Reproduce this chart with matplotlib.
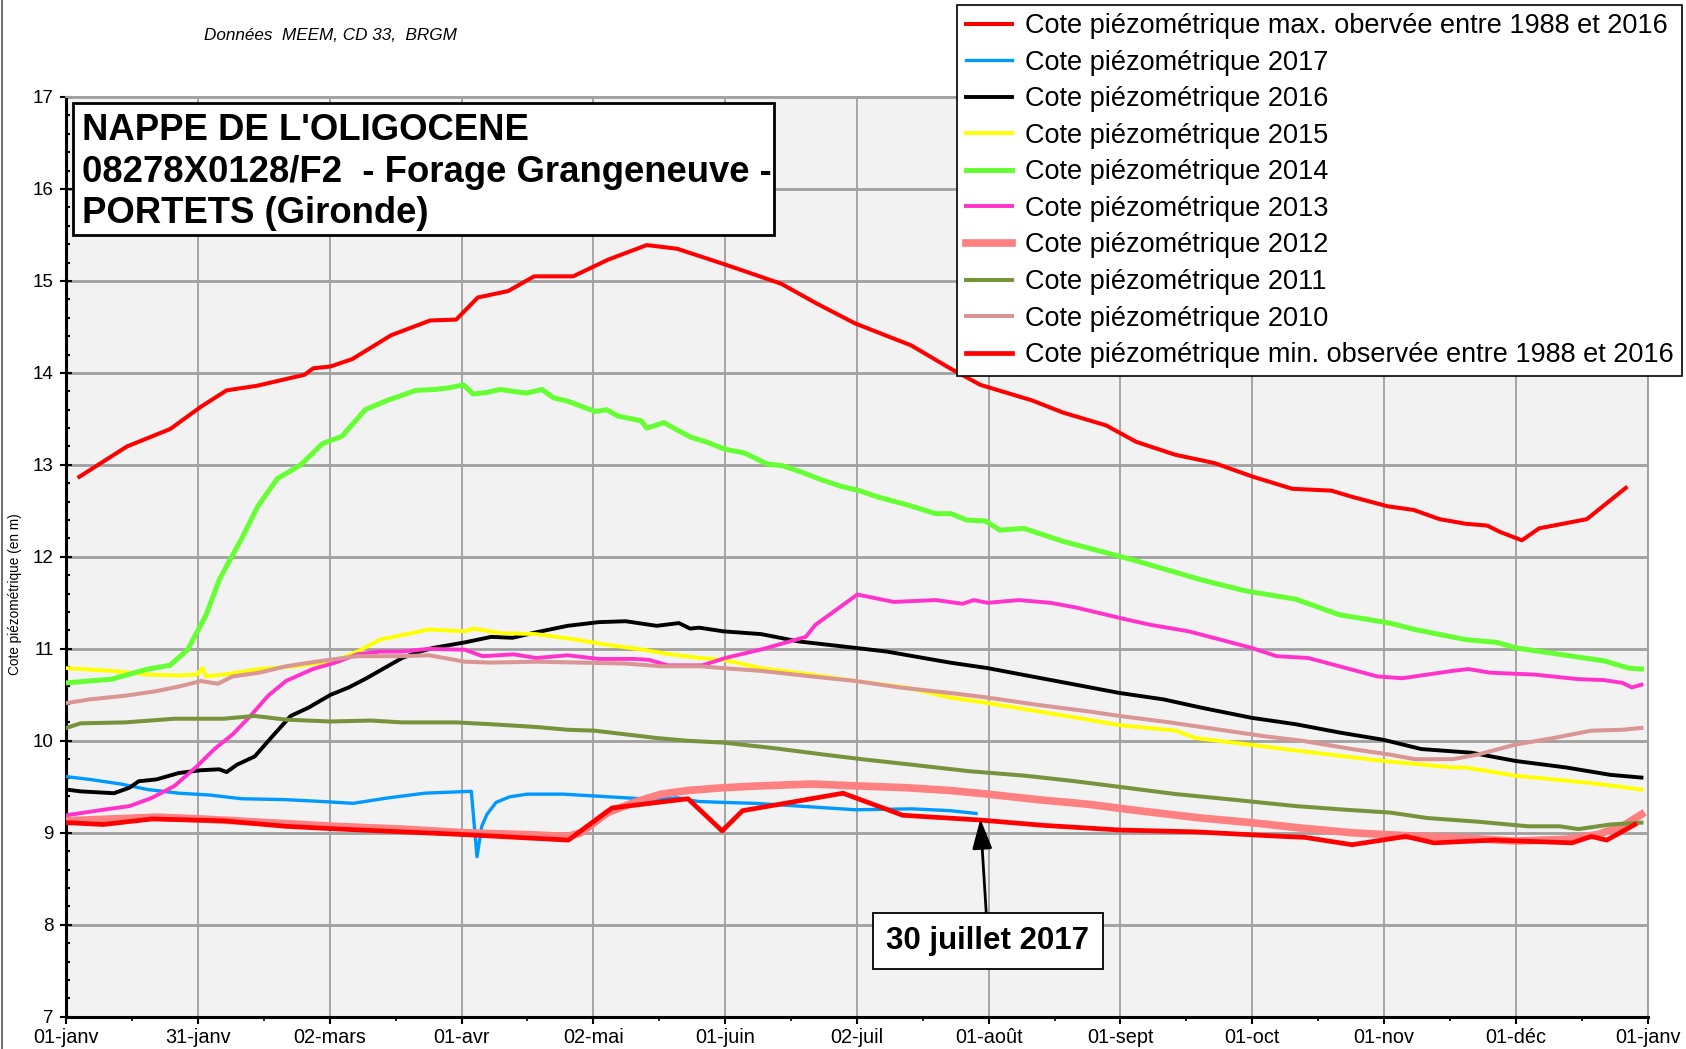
import matplotlib
matplotlib.use("Agg")
import matplotlib.pyplot as plt
from matplotlib import font_manager
from matplotlib.patches import Rectangle
from matplotlib.lines import Line2D

# =========================
# DONNEES (jour de l'annee, cote en m)
# =========================

max_jours = [3, 14, 24, 31, 37, 44, 55, 57, 61, 66, 75, 84, 90, 95, 102, 108, 117, 125, 134, 141,
             152, 165, 173, 182, 189, 195, 204, 211, 223, 230, 240, 247, 256, 265, 274, 283, 292,
             297, 305, 311, 317, 323, 328, 331, 336, 340, 351, 360]
max_cote = [12.87, 13.20, 13.39, 13.63, 13.81, 13.86, 13.98, 14.05, 14.07, 14.15, 14.41, 14.57,
            14.58, 14.82, 14.89, 15.05, 15.05, 15.23, 15.39, 15.35, 15.18, 14.97, 14.76, 14.54,
            14.41, 14.30, 14.05, 13.87, 13.70, 13.57, 13.43, 13.25, 13.11, 13.02, 12.87, 12.74,
            12.72, 12.65, 12.55, 12.51, 12.41, 12.36, 12.34, 12.27, 12.18, 12.31, 12.41, 12.75]

min_jours = [0, 8.5, 19.8, 36.3, 50.7, 63.1, 92, 115.9, 126, 143.5, 151.4, 156.1, 179.3, 193.1,
             210.5, 225.7, 243.1, 260.6, 280.9, 285.9, 296.8, 309.2, 315.7, 329.5, 347.6, 352,
             355.6, 362.1]
min_cote = [9.11, 9.09, 9.15, 9.13, 9.07, 9.04, 8.98, 8.92, 9.27, 9.37, 9.02, 9.24, 9.43, 9.19,
            9.14, 9.08, 9.03, 9.01, 8.96, 8.95, 8.87, 8.96, 8.89, 8.92, 8.89, 8.96, 8.92, 9.09]

j2017 = [0, 5.4, 12.6, 18.8, 26, 33.2, 40.4, 50.7, 59, 66.2, 74.4, 82.7, 93, 93.5, 94.8, 95.9,
         97.1, 99.2, 102.3, 106.4, 114.6, 121.9, 129.1, 136.3, 141, 145.9, 151.7, 158.9, 169.1,
         182.2, 195.2, 204, 210]
c2017 = [9.61, 9.58, 9.53, 9.47, 9.43, 9.41, 9.37, 9.36, 9.34, 9.32, 9.38, 9.43, 9.45, 9.45,
         8.74, 9.07, 9.20, 9.33, 9.39, 9.42, 9.42, 9.40, 9.38, 9.36, 9.38, 9.34, 9.33, 9.32, 9.29,
         9.25, 9.26, 9.24, 9.21]

j2016 = [0, 3.3, 11, 14.6, 16.7, 20.8, 26, 31.1, 35.3, 37, 39.4, 43.5, 47.6, 51.8, 55.9, 61,
         65.2, 69.3, 73.4, 77.5, 81.6, 84.7, 92, 98.1, 103, 108.5, 115.7, 122.9, 129.1, 136.3,
         141.4, 144, 146.1, 151.7, 160.4, 169.1, 182.2, 189.4, 204, 212.7, 222.8, 233, 243.1,
         253.3, 262, 273.6, 283.8, 293.9, 304.1, 312.8, 324.4, 334.6, 346.2, 356.4, 363.6]
c2016 = [9.47, 9.45, 9.43, 9.49, 9.56, 9.58, 9.65, 9.68, 9.69, 9.66, 9.74, 9.83, 10.05, 10.27,
         10.36, 10.50, 10.58, 10.68, 10.79, 10.90, 10.97, 11.01, 11.07, 11.13, 11.12, 11.18,
         11.25, 11.29, 11.30, 11.25, 11.28, 11.22, 11.23, 11.19, 11.16, 11.08, 11.01, 10.97,
         10.85, 10.79, 10.70, 10.61, 10.52, 10.45, 10.36, 10.25, 10.18, 10.09, 10.01, 9.91,
         9.87, 9.78, 9.71, 9.63, 9.60]

j2015 = [0, 10.5, 18.8, 26, 30.1, 31.5, 32.2, 36.3, 44.5, 52.8, 62.1, 67.2, 72.4, 79.6, 83.7,
         92, 94, 100.2, 108.5, 117.7, 123.9, 133.2, 139.4, 146.4, 151.7, 160.4, 172, 182.2,
         193.8, 204, 212.7, 224.3, 235.9, 243.1, 256.2, 260.6, 272.8, 284.5, 304.1, 320, 322.9,
         334.6, 352, 363.6]
c2015 = [10.79, 10.76, 10.72, 10.71, 10.72, 10.79, 10.70, 10.72, 10.78, 10.81, 10.87, 10.97,
         11.10, 11.17, 11.21, 11.19, 11.22, 11.17, 11.16, 11.10, 11.05, 10.99, 10.94, 10.90,
         10.88, 10.79, 10.72, 10.65, 10.58, 10.47, 10.41, 10.32, 10.23, 10.17, 10.11, 10.03,
         9.96, 9.89, 9.78, 9.71, 9.71, 9.62, 9.54, 9.47]

j2014 = [0, 10.5, 18.8, 23.9, 28, 32.2, 35.3, 37.8, 40.5, 44.2, 48.7, 54.1, 59.1, 63.6, 69, 74,
         77.1, 80.7, 85.1, 88.6, 91.7, 93.9, 97.4, 100.1, 106.2, 109.8, 112.4, 115.9, 122.1,
         124.7, 127.4, 132.7, 134, 138, 140.6, 144.2, 147.7, 152.1, 156.5, 161.8, 165.4, 169.8,
         174.2, 178.6, 183, 187.4, 194.5, 200.7, 204.2, 207.8, 212.2, 215.5, 221, 230, 238,
         246, 262, 272.2, 283.8, 293.9, 305.5, 311.3, 323, 330.2, 334.6, 344.7, 354.9, 360.7,
         363.6]
c2014 = [10.63, 10.67, 10.78, 10.82, 10.99, 11.36, 11.75, 11.97, 12.20, 12.55, 12.85, 13.00,
         13.23, 13.31, 13.60, 13.70, 13.75, 13.81, 13.82, 13.84, 13.87, 13.77, 13.79, 13.82,
         13.78, 13.82, 13.73, 13.69, 13.58, 13.60, 13.53, 13.48, 13.40, 13.46, 13.39, 13.30,
         13.25, 13.17, 13.13, 13.01, 12.99, 12.92, 12.84, 12.77, 12.72, 12.65, 12.56, 12.47,
         12.47, 12.40, 12.39, 12.29, 12.31, 12.17, 12.07, 11.97, 11.75, 11.63, 11.54, 11.37,
         11.28, 11.21, 11.10, 11.07, 11.01, 10.94, 10.87, 10.79, 10.78]

j2013 = [0, 8.5, 14.6, 19.8, 25, 30.1, 34.2, 38.4, 42.5, 46.6, 50.7, 56.9, 62.1, 67.2, 72.4,
         77.5, 83.7, 92, 96.1, 103.3, 108.5, 115.7, 122.9, 131.1, 134.5, 138.9, 146.8, 152.1,
         161, 170.7, 172.9, 182.6, 191, 200.7, 206.9, 209.5, 212.7, 219.9, 227.2, 233, 244.6,
         250.4, 259.1, 266.4, 273.6, 279.4, 286.7, 293.9, 302.6, 308.4, 314.2, 320, 323.7,
         328.7, 338.9, 349.1, 354.9, 359.2, 361.4, 363.6]
c2013 = [9.19, 9.25, 9.29, 9.38, 9.51, 9.72, 9.91, 10.07, 10.27, 10.49, 10.65, 10.78, 10.85,
         10.94, 10.97, 10.97, 11.00, 10.99, 10.92, 10.94, 10.90, 10.93, 10.89, 10.89, 10.88,
         10.82, 10.82, 10.90, 11.00, 11.13, 11.26, 11.59, 11.51, 11.53, 11.49, 11.53, 11.50,
         11.53, 11.50, 11.45, 11.32, 11.26, 11.19, 11.10, 11.01, 10.92, 10.90, 10.81, 10.70,
         10.68, 10.72, 10.76, 10.78, 10.74, 10.72, 10.67, 10.66, 10.63, 10.58, 10.61]

j2012 = [0, 10.5, 20.8, 31.1, 46.6, 62.1, 77.5, 92, 106.4, 115.7, 118.8, 125, 131.1, 137.3,
         143.5, 151.7, 160.4, 172, 182.2, 193.8, 204, 212.7, 224.3, 235.9, 247.5, 262, 273.6,
         285.3, 296.8, 308.5, 320, 334.6, 346.2, 353.4, 359.2, 363.6]
c2012 = [9.13, 9.15, 9.17, 9.15, 9.11, 9.07, 9.04, 9.00, 8.98, 8.96, 9.00, 9.22, 9.33, 9.42,
         9.46, 9.49, 9.51, 9.53, 9.51, 9.49, 9.46, 9.42, 9.36, 9.31, 9.24, 9.16, 9.11, 9.05,
         9.00, 8.97, 8.95, 8.91, 8.93, 8.98, 9.07, 9.20]

j2011 = [0, 3.3, 13.6, 25, 36.3, 43.5, 50.7, 61, 70.3, 77.5, 89.9, 98.1, 108.5, 115.7, 121.9,
         129.1, 136.3, 143.5, 151.7, 163.3, 174.9, 183.6, 195.2, 208.3, 221.4, 232.9, 244.6,
         256.2, 269.3, 283.8, 295.4, 305.5, 314.2, 325.9, 337.5, 344.7, 349.1, 356.4, 363.6]
c2011 = [10.14, 10.19, 10.20, 10.24, 10.24, 10.27, 10.23, 10.21, 10.22, 10.20, 10.20, 10.18,
         10.15, 10.12, 10.11, 10.07, 10.03, 10.00, 9.98, 9.92, 9.85, 9.80, 9.74, 9.67, 9.62,
         9.56, 9.49, 9.42, 9.36, 9.29, 9.25, 9.22, 9.16, 9.12, 9.07, 9.07, 9.04, 9.09, 9.11]

j2010 = [0, 5.4, 13.6, 20.8, 26, 31.1, 35, 38.4, 44.5, 50.7, 59, 67.2, 77.5, 83.7, 92, 98.1,
         108.5, 118.8, 129.1, 137.3, 146.4, 151.7, 160.4, 172, 182.2, 192.4, 204, 212.7, 224.3,
         235.9, 243.1, 254.7, 267.8, 276.5, 285.3, 296.8, 305.5, 311.3, 320, 325.8, 334.6,
         343.3, 352, 359.2, 363.6]
c2010 = [10.41, 10.45, 10.49, 10.54, 10.59, 10.65, 10.62, 10.70, 10.74, 10.81, 10.87, 10.92,
         10.92, 10.93, 10.86, 10.85, 10.86, 10.85, 10.84, 10.81, 10.81, 10.79, 10.76, 10.70,
         10.65, 10.58, 10.52, 10.47, 10.39, 10.32, 10.27, 10.20, 10.11, 10.05, 10.00, 9.91,
         9.85, 9.80, 9.80, 9.85, 9.96, 10.03, 10.11, 10.12, 10.14]

mois = ["01-janv", "31-janv", "02-mars", "01-avr", "02-mai", "01-juin", "02-juil",
        "01-août", "01-sept", "01-oct", "01-nov", "01-déc", "01-janv"]

# =========================
# STYLE
# =========================

plt.rcParams["font.family"] = ["Liberation Sans", "DejaVu Sans"]

series = [
    (max_jours, max_cote, "#ff0000", 2.9, "Cote piézométrique max. obervée entre 1988 et 2016"),
    (j2017, c2017, "#0099ff", 2.4, "Cote piézométrique 2017"),
    (j2016, c2016, "#000000", 2.8, "Cote piézométrique 2016"),
    (j2015, c2015, "#ffff00", 2.8, "Cote piézométrique 2015"),
    (j2014, c2014, "#66ff33", 3.6, "Cote piézométrique 2014"),
    (j2013, c2013, "#ff33cc", 2.8, "Cote piézométrique 2013"),
    (j2012, c2012, "#ff8080", 5.5, "Cote piézométrique 2012"),
    (j2011, c2011, "#77933c", 2.9, "Cote piézométrique 2011"),
    (j2010, c2010, "#d99694", 2.9, "Cote piézométrique 2010"),
    (min_jours, min_cote, "#ff0000", 3.4, "Cote piézométrique min. observée entre 1988 et 2016"),
]

W, H = 1686, 1049
fig = plt.figure(figsize=(W / 100, H / 100), dpi=100)
ax = fig.add_axes([66.3 / W, 1 - 1016.7 / H, (1647.5 - 66.3) / W, (1016.7 - 97) / H])
ax.set_facecolor("#f2f2f2")

handles = []
for x, y, col, lw, lab in series:
    h, = ax.plot(x, y, color=col, lw=lw, label=lab, solid_joinstyle="round", zorder=3)
    handles.append(h)

ax.set_xlim(0, 365)
ax.set_ylim(7, 17)
pas = 365 / 12
ax.set_xticks([i * pas for i in range(13)])
ax.set_xticklabels(mois, fontsize=14.3)
ax.set_xticks([(i + 0.5) * pas for i in range(12)], minor=True)
ax.set_yticks(range(7, 18))
ax.set_yticks([7 + 0.2 * i for i in range(51)], minor=True)
ax.tick_params(axis="y", labelsize=13.5, direction="inout", length=8, width=1.5, pad=5)
ax.tick_params(axis="y", which="minor", direction="in", length=3, width=1.5)
ax.tick_params(axis="x", direction="out", length=5, width=1.5, pad=3)
ax.tick_params(axis="x", which="minor", direction="out", length=3, width=1.2)

ax.grid(axis="y", color="#a0a0a0", lw=2.0, zorder=1)
ax.grid(axis="x", color="#a0a0a0", lw=1.3, zorder=1)
ax.set_axisbelow(True)
for s in ["left", "bottom"]:
    ax.spines[s].set_linewidth(2.2)
    ax.spines[s].set_color("black")
for s in ["top", "right"]:
    ax.spines[s].set_linewidth(1.4)
    ax.spines[s].set_color("#a0a0a0")

fig.text(15 / W, 1 - 594 / H, "Cote piézométrique (en m)", rotation=90,
         ha="center", va="center", fontsize=9.8)
fig.text(204 / W, 1 - 36 / H, "Données  MEEM, CD 33,  BRGM", style="italic",
         ha="left", va="center", fontsize=12.3)

# cadre titre
fig.add_artist(Rectangle((73 / W, 1 - 234.5 / H), 701 / W, 131.5 / H, transform=fig.transFigure,
                         facecolor="white", edgecolor="black", lw=2, zorder=5))
titres = ["NAPPE DE L'OLIGOCENE", "08278X0128/F2  - Forage Grangeneuve -", "PORTETS (Gironde)"]
for t, yb in zip(titres, [140, 182.5, 223]):
    fig.text(81.5 / W, 1 - yb / H, t, fontsize=26.3, fontweight="bold", ha="left",
             va="baseline", zorder=6)

# annotation
ax.annotate("30 juillet 2017", xy=(211, 9.15), xycoords="data",
            xytext=(988 / W, 1 - 941 / H), textcoords="figure fraction",
            ha="center", va="center", fontsize=22.5, fontweight="bold", zorder=6,
            bbox=dict(boxstyle="square,pad=0.42", facecolor="white", edgecolor="black", lw=1.3),
            arrowprops=dict(arrowstyle="-|>,head_length=0.9,head_width=0.3", color="black",
                            lw=2, mutation_scale=20, shrinkA=0, shrinkB=0))

leg = fig.legend(handles=handles, loc="upper right", bbox_to_anchor=(1682 / W, 1 - 5 / H),
                 bbox_transform=fig.transFigure, frameon=True, fancybox=False,
                 edgecolor="black", framealpha=1, fontsize=19.5, borderpad=0.3,
                 labelspacing=0.39, handlelength=1.7, handletextpad=0.5, borderaxespad=0)
leg.get_frame().set_linewidth(1.2)
leg.set_zorder(7)

fig.add_artist(Line2D([1.5 / W, 1.5 / W], [0, 1], transform=fig.transFigure,
                      color="#555555", lw=1.2))

fig.savefig("out.png", dpi=100)
